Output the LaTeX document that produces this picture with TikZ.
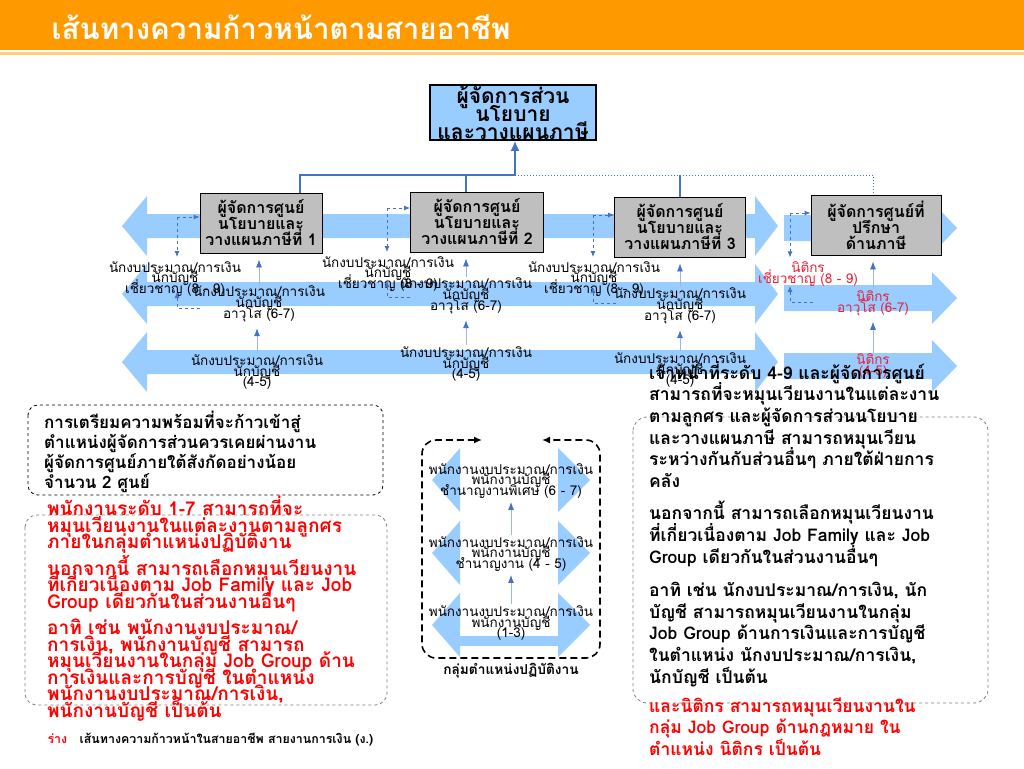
\documentclass[tikz,border=0pt]{standalone}
\usepackage{fontspec}
\setmainfont{Loma}[Script=Thai]
\usetikzlibrary{arrows.meta,positioning}
\definecolor{hdrorange}{HTML}{FF9900}
\definecolor{hdrlight}{HTML}{FFCC80}
\definecolor{bandblue}{HTML}{99CCFF}
\definecolor{linkblue}{HTML}{4472C4}
\definecolor{stemblue}{HTML}{9DB8E3}
\definecolor{boxgrey}{HTML}{BFBFBF}
\definecolor{lawred}{HTML}{E8203A}
\lineskiplimit=-1000pt
\lineskip=0pt

\begin{document}
\begin{tikzpicture}[x=1pt,y=-1pt,
  centrebox/.style={draw,fill=boxgrey,line width=0.8pt,minimum height=60pt,align=center,
    font=\bfseries\fontsize{16}{16}\selectfont,inner sep=1pt},
  lbl/.style={align=center,font=\fontsize{13.5}{10.8}\selectfont,inner sep=1pt},
  lawlbl/.style={lbl,text=lawred},
  dasharrow/.style={linkblue,dashed,line width=0.9pt,-{Latex[length=6pt,width=5pt]}},
  uparrow/.style={stemblue,line width=0.8pt,-{Latex[length=8pt,width=6pt,color=linkblue]}},
  note/.style={anchor=north west,align=left,inner sep=0pt}]

\useasboundingbox (0,0) rectangle (1024,768);

% header
\fill[hdrorange] (0,0) rectangle (1024,50);
\fill[hdrlight] (0,52.5) rectangle (1024,55.5);
\node[anchor=west,text=white,font=\bfseries\fontsize{29.5}{32}\selectfont] (title) at (48,27) {เส้นทางความก้าวหน้าตามสายอาชีพ};

% big bands
\foreach \c in {226,294,362}{
  \fill[bandblue] (122,\c) -- (147,\c-30) -- (147,\c-12) -- (755,\c-12) -- (755,\c-30) -- (778,\c)
    -- (755,\c+30) -- (755,\c+12) -- (147,\c+12) -- (147,\c+30) -- cycle;
}
\foreach \c in {228,298,366}{
  \fill[bandblue] (784,\c-13) -- (932,\c-13) -- (932,\c-26) -- (957,\c) -- (932,\c+26)
    -- (932,\c+13) -- (784,\c+13) -- cycle;
}

% boxes
\node[draw,line width=1.5pt,fill=bandblue,minimum width=166pt,minimum height=55pt,align=center,
  inner sep=0pt,font=\bfseries\fontsize{21}{18}\selectfont] (mgr) at (513,112.5)
  {ผู้จัดการส่วน\\นโยบาย\\และวางแผนภาษี};
\node[centrebox,minimum width=122pt] (b1) at (261,223) {ผู้จัดการศูนย์\\นโยบายและ\\วางแผนภาษีที่ 1};
\node[centrebox,minimum width=133pt] (b2) at (477,222) {ผู้จัดการศูนย์\\นโยบายและ\\วางแผนภาษีที่ 2};
\node[centrebox,minimum width=131pt] (b3) at (680,227) {ผู้จัดการศูนย์\\นโยบายและ\\วางแผนภาษีที่ 3};
\node[centrebox,minimum width=130pt] (b4) at (876,225) {ผู้จัดการศูนย์ที่\\ปรึกษา\\ด้านภาษี};

% tree to the top box
\coordinate (tL) at (300,175);
\coordinate (t2) at (466,175);
\coordinate (tM) at (515,175);
\coordinate (t3) at (680,175);
\coordinate (tR) at (873,175);
\draw[linkblue,line width=1.2pt] (tL |- b1.north) -- (tL) -- (tM);
\draw[linkblue,line width=1.2pt] (t2) -- (t2 |- b2.north);
\draw[linkblue,line width=1.2pt] (t3) -- (t3 |- b3.north);
\draw[linkblue,line width=1pt,dotted] (tM) -- (tR) -- (tR |- b4.north);
\draw[linkblue,line width=2pt,-{Latex[length=10pt,width=9pt]}] (tM) -- (tM |- mgr.south);

% labels
\node[lbl] (e1) at (175,279) {นักงบประมาณ/การเงิน\\นักบัญชี\\เชี่ยวชาญ (8 - 9)};
\node[lbl] (e2) at (388,274) {นักงบประมาณ/การเงิน\\นักบัญชี\\เชี่ยวชาญ (8 - 9)};
\node[lbl] (e3) at (594,279) {นักงบประมาณ/การเงิน\\นักบัญชี\\เชี่ยวชาญ (8 - 9)};
\node[lawlbl] (e4) at (808,274) {นิติกร\\เชี่ยวชาญ (8 - 9)};
\node[lbl] (s1) at (259,304) {นักงบประมาณ/การเงิน\\นักบัญชี\\อาวุโส (6-7)};
\node[lbl] (s2) at (466,296) {นักงบประมาณ/การเงิน\\นักบัญชี\\อาวุโส (6-7)};
\node[lbl] (s3) at (680,306) {นักงบประมาณ/การเงิน\\นักบัญชี\\อาวุโส (6-7)};
\node[lawlbl] (s4) at (873,303) {นิติกร\\อาวุโส (6-7)};
\node[lbl] (j1) at (257,372) {นักงบประมาณ/การเงิน\\นักบัญชี\\(4-5)};
\node[lbl] (j2) at (466,364) {นักงบประมาณ/การเงิน\\นักบัญชี\\(4-5)};
\node[lbl] (j3) at (680,370) {นักงบประมาณ/การเงิน\\นักบัญชี\\(4-5)};
\node[lawlbl] (j4) at (873,366) {นิติกร\\(4-5)};

% promotion arrows
\foreach \k in {1,...,4}{
  \draw[uparrow,shorten >=6pt] (s\k.north) -- (s\k.north |- b\k.south);
  \draw[uparrow,shorten >=5pt] (j\k.north) -- (j\k.north |- s\k.south);
}

% rotation arrows beside the boxes
\foreach \k/\dx/\ty/\ly in {1/177/217/308, 2/387/208/297, 3/593/215/303, 4/790/213/302}{
  \coordinate (d\k) at (\dx,\ty);
  \coordinate (u\k) at (\dx,\ly);
  \coordinate (v\k) at (\dx+23,\ly);
  \draw[dasharrow] (d\k) -- (d\k -| b\k.west);
  \draw[dasharrow,shorten >=3pt] (d\k) -- (d\k |- e\k.north);
  \draw[dasharrow] (v\k) -- (u\k) -- ++(0,-16);
}

% working level group
\foreach \c in {480,553,625}{
  \fill[bandblue] (432,\c) -- (460,\c-32) -- (460,\c+32) -- cycle;
  \fill[bandblue] (590,\c) -- (558,\c-32) -- (558,\c+32) -- cycle;
}
\fill[bandblue] (460,636) rectangle (558,646);
\coordinate (gl) at (482,440);
\coordinate (gr) at (542,440);
\draw[line width=1.6pt,dash pattern=on 7pt off 4pt,rounded corners=14pt,
  {Latex[length=8pt,width=7pt]}-{Latex[length=8pt,width=7pt]}]
  (gl) -- (422,440) -- (422,658) -- (600,658) -- (600,440) -- (gr);
\node[lbl] (m1) at (511,481) {พนักงานงบประมาณ/การเงิน\\พนักงานบัญชี\\ชำนาญงานพิเศษ (6 - 7)};
\node[lbl] (m2) at (511,554) {พนักงานงบประมาณ/การเงิน\\พนักงานบัญชี\\ชำนาญงาน (4 - 5)};
\node[lbl] (m3) at (511,623) {พนักงานงบประมาณ/การเงิน\\พนักงานบัญชี\\(1-3)};
\draw[uparrow,shorten >=2pt] (m3.north) -- (m2.south);
\draw[uparrow,shorten >=2pt] (m2.north) -- (m1.south);
\node[font=\bfseries\fontsize{13.7}{14}\selectfont] (grp) at (511,671) {กลุ่มตำแหน่งปฏิบัติงาน};

% left notes
\draw[dashed,line width=0.8pt,rounded corners=10pt] (28,405) rectangle (383,495);
\node[note,font=\bfseries\fontsize{17}{20}\selectfont] (prep) at (44,411)
  {การเตรียมความพร้อมที่จะก้าวเข้าสู่\\ตำแหน่งผู้จัดการส่วนควรเคยผ่านงาน\\ผู้จัดการศูนย์ภายใต้สังกัดอย่างน้อย\\จำนวน 2 ศูนย์};
\draw[gray,dashed,line width=0.8pt,rounded corners=12pt] (25,515) rectangle (387,705);
\node[note,text=red,font=\bfseries\fontsize{19}{16.5}\selectfont] (rotl) at (47,496)
  {พนักงานระดับ 1-7 สามารถที่จะ\\หมุนเวียนงานในแต่ละงานตามลูกศร\\ภายในกลุ่มตำแหน่งปฏิบัติงาน\\[10pt]
   นอกจากนี้ สามารถเลือกหมุนเวียนงาน\\ที่เกี่ยวเนื่องตาม Job Family และ Job\\Group เดียวกันในส่วนงานอื่นๆ\\[10pt]
   อาทิ เช่น พนักงานงบประมาณ/\\การเงิน, พนักงานบัญชี สามารถ\\หมุนเวียนงานในกลุ่ม Job Group ด้าน\\การเงินและการบัญชี ในตำแหน่ง\\พนักงานงบประมาณ/การเงิน,\\พนักงานบัญชี เป็นต้น};
\node[anchor=west,font=\bfseries\fontsize{12.4}{13}\selectfont] (draft) at (44,740)
  {\textcolor{red}{ร่าง}\quad เส้นทางความก้าวหน้าในสายอาชีพ สายงานการเงิน (ง.)};

% right notes
\draw[gray,dashed,line width=0.8pt,rounded corners=14pt] (633,417) rectangle (988,703);
\node[note,font=\bfseries\fontsize{17.5}{21.6}\selectfont] (rotr) at (649,361)
  {เจ้าหน้าที่ระดับ 4-9 และผู้จัดการศูนย์\\สามารถที่จะหมุนเวียนงานในแต่ละงาน\\ตามลูกศร และผู้จัดการส่วนนโยบาย\\และวางแผนภาษี สามารถหมุนเวียน\\ระหว่างกันกับส่วนอื่นๆ ภายใต้ฝ่ายการ\\คลัง\\[11pt]
   นอกจากนี้ สามารถเลือกหมุนเวียนงาน\\ที่เกี่ยวเนื่องตาม Job Family และ Job\\Group เดียวกันในส่วนงานอื่นๆ\\[12pt]
   อาทิ เช่น นักงบประมาณ/การเงิน, นัก\\บัญชี สามารถหมุนเวียนงานในกลุ่ม\\Job Group ด้านการเงินและการบัญชี\\ในตำแหน่ง นักงบประมาณ/การเงิน,\\นักบัญชี เป็นต้น};
\node[note,text=red,font=\bfseries\fontsize{17.5}{21.6}\selectfont] (lawr) at (649,697)
  {และนิติกร สามารถหมุนเวียนงานใน\\กลุ่ม Job Group ด้านกฎหมาย ใน\\ตำแหน่ง นิติกร เป็นต้น};
\end{tikzpicture}
\end{document}
